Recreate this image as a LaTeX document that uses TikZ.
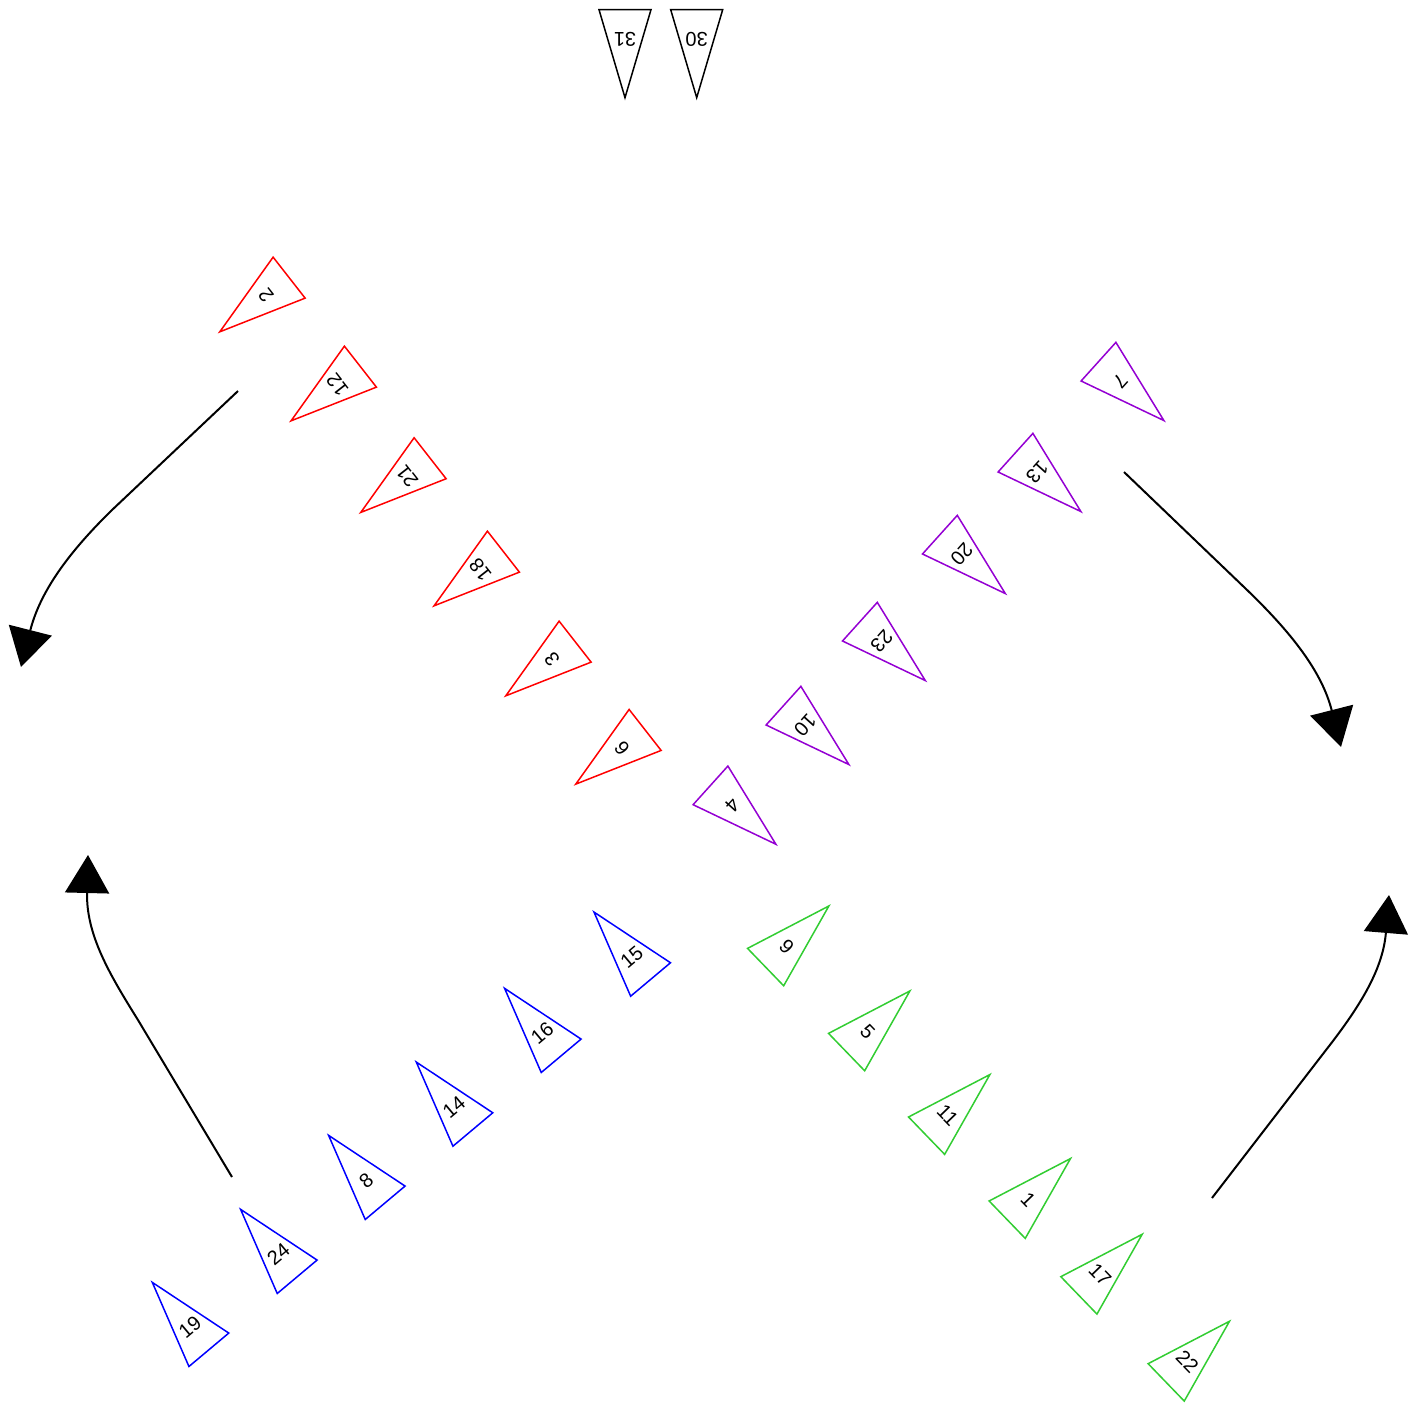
\documentclass[tikz,border=0pt]{standalone}
\usepackage{fontspec}
\setmainfont{Liberation Sans}
\usetikzlibrary{arrows.meta}
\definecolor{cred}{RGB}{255,0,0}
\definecolor{cpurple}{RGB}{148,0,211}
\definecolor{cblue}{RGB}{0,0,255}
\definecolor{cgreen}{RGB}{50,205,50}
\tikzset{
  lbl/.style={inner sep=0pt, font=\fontsize{10}{12}\selectfont},
  triborder/.style={line width=0.75pt, line join=miter},
  flow/.style={line width=1pt, -{Triangle[length=19pt,width=22pt]}},
}
\newcommand\mytri[6]{% name, x, y, angle, colour, label
  \node[lbl, rotate=#4] (#1) at (#2,#3) {#6};
  \draw[triborder, #5, shift={(#1.center)}, rotate=#4]
    (-13pt,-14.67pt) -- (13pt,-14.67pt) -- (0pt,29.33pt) -- cycle;
}
\begin{document}
\begin{tikzpicture}[x=0.5pt, y=-0.5pt]
\useasboundingbox (0,0) rectangle (1421,1404);
\fill[white] (0,0) rectangle (1421,1404);
% top
\mytri{t31}{625}{39}{180}{black}{31}
\mytri{t30}{696.7}{39}{180}{black}{30}
% red
\mytri{t2}{266}{295.7}{128}{cred}{2}
\mytri{t12}{337.3}{384.7}{128}{cred}{12}
\mytri{t21}{407}{476.3}{128}{cred}{21}
\mytri{t18}{480.3}{569.7}{128}{cred}{18}
\mytri{t3}{552}{659.7}{128}{cred}{3}
\mytri{t6}{622}{748}{128}{cred}{6}
% purple
\mytri{t7}{1120.3}{381.3}{228}{cpurple}{7}
\mytri{t13}{1037.3}{472.3}{228}{cpurple}{13}
\mytri{t20}{961.7}{554.3}{228}{cpurple}{20}
\mytri{t23}{881.7}{641.3}{228}{cpurple}{23}
\mytri{t10}{805.3}{725.3}{228}{cpurple}{10}
\mytri{t4}{732.3}{805}{228}{cpurple}{4}
% blue
\mytri{t19}{190}{1327.3}{40}{cblue}{19}
\mytri{t24}{278.3}{1254.3}{40}{cblue}{24}
\mytri{t8}{366.3}{1180.3}{40}{cblue}{8}
\mytri{t14}{454}{1107}{40}{cblue}{14}
\mytri{t16}{542.3}{1033.3}{40}{cblue}{16}
\mytri{t15}{631.7}{957}{40}{cblue}{15}
% green
\mytri{t9}{786.7}{946.7}{-46}{cgreen}{9}
\mytri{t5}{867.7}{1031.7}{-46}{cgreen}{5}
\mytri{t11}{947.7}{1115.3}{-46}{cgreen}{11}
\mytri{t1}{1028.3}{1199.3}{-46}{cgreen}{1}
\mytri{t17}{1100}{1275}{-46}{cgreen}{17}
\mytri{t22}{1187.3}{1362}{-46}{cgreen}{22}
% arrows
\coordinate (a1s) at (238,391);
\coordinate (a1e) at (21,667);
\coordinate (a2s) at (1124,472);
\coordinate (a2e) at (1341,747);
\coordinate (a3s) at (232,1177);
\coordinate (a3e) at (88,855);
\coordinate (a4s) at (1212,1198);
\coordinate (a4e) at (1389,895);
\draw[flow] (a1s) -- (112,510) .. controls (68,553) and (40,592) .. (a1e);
\draw[flow] (a2s) -- (1245,588) .. controls (1292,633) and (1322,672) .. (a2e);
\draw[flow] (a3s) -- (138,1020) .. controls (110,975) and (86,935) .. (a3e);
\draw[flow] (a4s) -- (1326,1050) .. controls (1362,1004) and (1383,968) .. (a4e);
\end{tikzpicture}
\end{document}
